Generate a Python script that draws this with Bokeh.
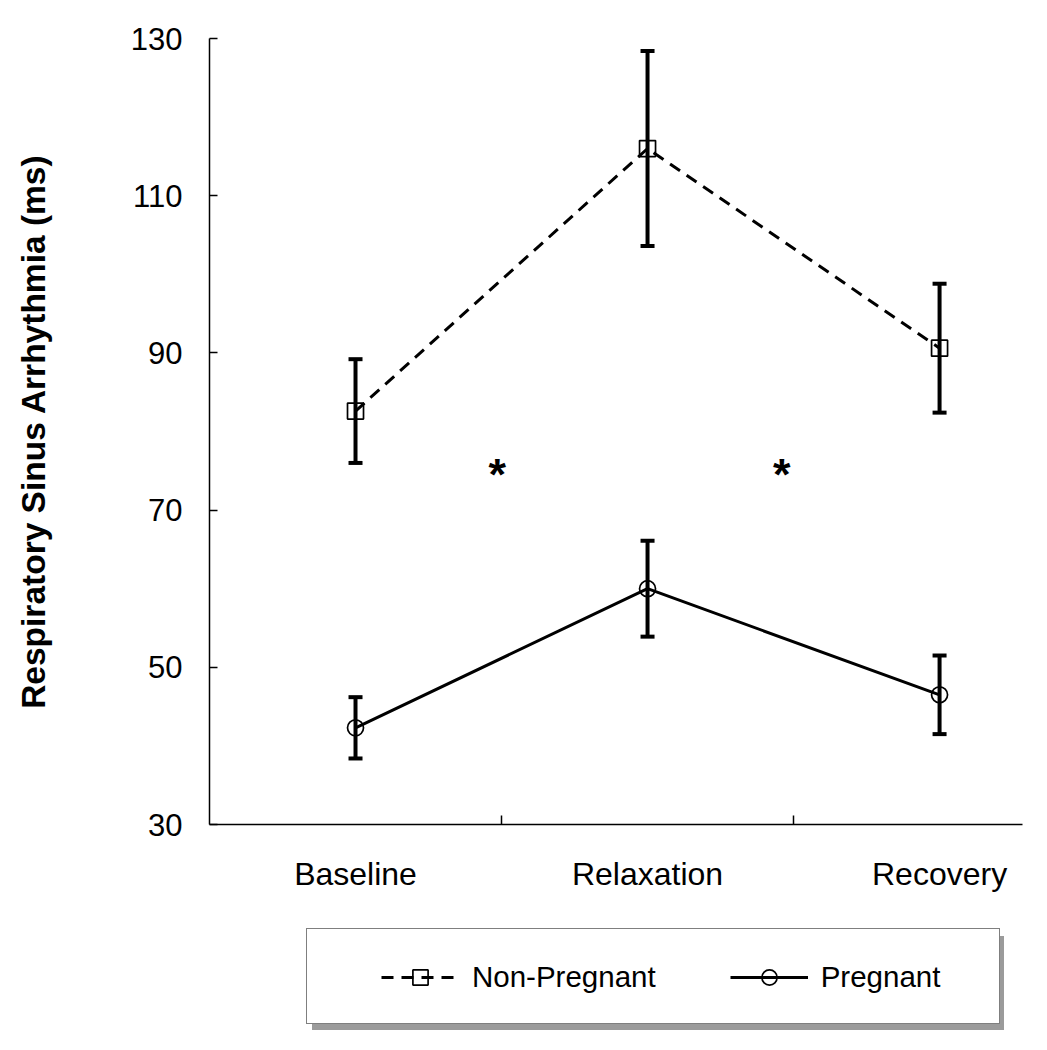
from bokeh.plotting import figure
from bokeh.layouts import column
from bokeh.models import (Range1d, FixedTicker, ColumnDataSource, Whisker, TeeHead,
                          Legend, LegendItem)
from bokeh.embed import file_html
from bokeh.resources import INLINE
from bokeh.core.properties import value

# ---- data ----
categories = ["Baseline", "Relaxation", "Recovery"]
nonpreg_mean = [82.6, 116.0, 90.6]
nonpreg_err = [6.6, 12.4, 8.2]
preg_mean = [42.3, 60.0, 46.5]
preg_err = [3.9, 6.1, 5.0]
y_ticks = [30, 50, 70, 90, 110, 130]
sig_x = [0.985, 1.96]
sig_y = [74.5, 74.5]
sig_labels = ["*", "*"]
series_names = ["Non-Pregnant", "Pregnant"]

FONT = "Liberation Sans"

xpos = [i + 0.5 for i in range(len(categories))]
src_np = ColumnDataSource(dict(x=xpos, y=nonpreg_mean,
                               lo=[m - e for m, e in zip(nonpreg_mean, nonpreg_err)],
                               hi=[m + e for m, e in zip(nonpreg_mean, nonpreg_err)]))
src_p = ColumnDataSource(dict(x=xpos, y=preg_mean,
                              lo=[m - e for m, e in zip(preg_mean, preg_err)],
                              hi=[m + e for m, e in zip(preg_mean, preg_err)]))

W = 1043
p = figure(width=W, height=900, x_range=Range1d(0, 2.784), y_range=Range1d(30, 130),
           output_backend="svg", toolbar_location=None,
           min_border_left=209, min_border_right=21, min_border_top=38, min_border_bottom=76)
p.outline_line_color = None
p.grid.visible = False
p.background_fill_color = "white"

# axes
p.yaxis.ticker = FixedTicker(ticks=y_ticks)
p.yaxis.major_tick_in = 8
p.yaxis.major_tick_out = 0
p.yaxis.minor_tick_line_color = None
p.yaxis.major_label_standoff = 27
p.yaxis.axis_label = "Respiratory Sinus Arrhythmia (ms)"
p.yaxis.axis_label_text_font = FONT
p.yaxis.axis_label_text_font_style = "bold"
p.yaxis.axis_label_text_font_size = "33.5px"
p.yaxis.axis_label_standoff = 76

p.xaxis.ticker = FixedTicker(ticks=xpos, minor_ticks=[1, 2])
p.xaxis.major_label_overrides = {x: c for x, c in zip(xpos, categories)}
p.xaxis.major_tick_line_color = None
p.xaxis.minor_tick_in = 9
p.xaxis.minor_tick_out = 0
p.xaxis.major_label_standoff = 25

for ax in (p.xaxis, p.yaxis):
    ax.axis_line_width = 1.5
    ax.axis_line_color = "black"
    ax.major_tick_line_width = 1.5
    ax.minor_tick_line_width = 1.5
    ax.major_label_text_font = FONT
    ax.major_label_text_color = "black"
    ax.axis_label_text_color = "black"
p.yaxis.major_label_text_font_size = "31px"
p.xaxis.major_label_text_font_size = "32px"

# series
NP_LINE = dict(line_color="black", line_width=3, line_dash="12 8")
P_LINE = dict(line_color="black", line_width=3)
SQ = dict(marker="square", size=16, fill_alpha=0, line_color="black", line_width=1.7)
CI = dict(marker="circle", size=16, fill_alpha=0, line_color="black", line_width=1.7)

p.line("x", "y", source=src_np, **NP_LINE)
p.scatter("x", "y", source=src_np, **SQ)
p.line("x", "y", source=src_p, **P_LINE)
p.scatter("x", "y", source=src_p, **CI)

for src in (src_np, src_p):
    w = Whisker(base="x", upper="hi", lower="lo", source=src, dimension="height",
                line_color="black", line_width=4,
                upper_head=TeeHead(size=14, line_width=4, line_color="black"),
                lower_head=TeeHead(size=14, line_width=4, line_color="black"))
    p.add_layout(w)

p.text(x=sig_x, y=sig_y, text=sig_labels, text_font=value(FONT), text_font_style="bold",
       text_font_size="45px", text_align="center", text_baseline="middle", text_color="black")

# ---- legend strip below the chart (frame aligned with the chart's frame) ----
q = figure(width=W, height=148, x_range=Range1d(0, 1), y_range=Range1d(0, 1),
           output_backend="svg", toolbar_location=None,
           x_axis_location=None, y_axis_location=None,
           min_border_left=209, min_border_right=21, min_border_top=0, min_border_bottom=0)
q.outline_line_color = None
q.grid.visible = False

# legend proxies: one point each, placed outside the visible range
off = dict(x=[-5], y=[-5])
k_np_l = q.line(**off, **NP_LINE)
k_np_s = q.scatter(**off, **SQ)
k_p_l = q.line(**off, **P_LINE)
k_p_s = q.scatter(**off, **CI)
dummy = q.line(**off, line_alpha=0)

def box_legend(loc, fill, fill_alpha, border):
    return Legend(items=[LegendItem(label=" ", renderers=[dummy])], location=loc,
                  orientation="horizontal", padding=0, margin=0, spacing=0,
                  glyph_width=1, glyph_height=94, label_width=691, label_height=94,
                  label_standoff=0, label_text_font_size="10px",
                  border_line_color=border, border_line_width=1.5,
                  background_fill_color=fill, background_fill_alpha=fill_alpha)

shadow = box_legend((103, 18), "#7a7a7a", 0.75, None)
box = box_legend((97, 24), "white", 1.0, "black")
main = Legend(items=[LegendItem(label=series_names[0], renderers=[k_np_l, k_np_s]),
                     LegendItem(label=series_names[1], renderers=[k_p_l, k_p_s])],
              location=(144, 24), orientation="horizontal", padding=28, margin=0,
              spacing=74, glyph_width=78, glyph_height=38, label_height=38,
              label_standoff=13, label_text_font=FONT, label_text_font_size="29.5px",
              label_text_color="black", border_line_alpha=0, background_fill_alpha=0)
for lg in (shadow, box, main):
    q.add_layout(lg, "center")

layout = column(p, q, spacing=0)
open("out.html", "w").write(file_html(layout, INLINE))
